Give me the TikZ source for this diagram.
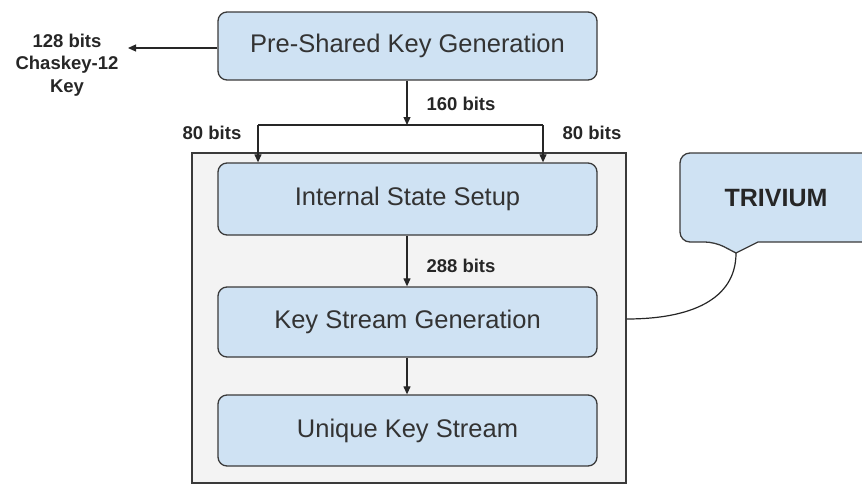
\documentclass[tikz,border=0pt]{standalone}
\usepackage{fontspec}
\setmainfont{Liberation Sans}
\usetikzlibrary{arrows.meta,calc}
\definecolor{boxblue}{HTML}{CFE2F3}
\definecolor{panel}{HTML}{F3F3F3}
\definecolor{edge}{HTML}{3A3A3A}
\begin{document}
\begin{tikzpicture}[x=1pt,y=-1pt,
  blk/.style={draw=edge,line width=1.3pt,fill=boxblue,rounded corners=9pt,
    minimum width=379pt,inner sep=0pt,font=\fontsize{25.5}{30}\selectfont,text=black!80},
  lbl/.style={font=\bfseries\fontsize{18.5}{22.5}\selectfont,text=black!85,align=center,inner sep=0pt},
  conn/.style={draw=black!85,line width=1.2pt},
  arr/.style={conn,-{Triangle[length=8pt,width=7pt]}}]
\useasboundingbox (0,0) rectangle (862,485);
\clip (0,0) rectangle (862,485);
% container
\node[draw=edge,line width=1.3pt,fill=panel,minimum width=434pt,minimum height=330pt,inner sep=0pt] (cont) at (409,318) {};
% blocks
\node[blk,minimum height=68pt] (psk) at (407.5,46) {Pre-Shared Key Generation};
\node[blk,minimum height=72pt] (iss) at (407.5,199) {Internal State Setup};
\node[blk,minimum height=70pt] (ksg) at (407.5,322) {Key Stream Generation};
\node[blk,minimum height=71pt] (uks) at (407.5,430.5) {Unique Key Stream};
% callout
\coordinate (tip) at (736,253);
\path[draw=edge,line width=1.3pt,fill=boxblue,rounded corners=10pt]
  (758,242) -- (900,242) -- (900,153) -- (680,153) -- (680,242) -- (715,242)
  [sharp corners] -- (tip) -- (758,242) -- cycle;
\node[font=\bfseries\fontsize{25}{30}\selectfont,text=black!85,inner sep=0pt] (triv) at (776,198) {TRIVIUM};
\draw[conn] (tip) .. controls (736,300) and (690,319) .. (cont.east |- 0,319);
% key output
\coordinate (key) at (128,48);
\draw[arr] (psk.west |- key) -- (key);
\node[lbl] (keylbl) at (67,65) {128 bits\\Chaskey-12\\Key};
% split
\coordinate (j) at (407,125);
\coordinate (jl) at (258,125);
\coordinate (jr) at (543,125);
\draw[arr] (psk.south -| j) -- (j);
\draw[conn] (jl) -- (jr);
\draw[arr] (jl) -- (jl |- iss.north);
\draw[arr] (jr) -- (jr |- iss.north);
\node[lbl] (l160) at (461,104) {160 bits};
\node[lbl] (l80a) at (212,133) {80 bits};
\node[lbl] (l80b) at (592,133) {80 bits};
% chain
\draw[arr] (iss.south -| j) -- (ksg.north -| j);
\node[lbl] (l288) at (461,266) {288 bits};
\draw[arr] (ksg.south -| j) -- (uks.north -| j);
\end{tikzpicture}
\end{document}
